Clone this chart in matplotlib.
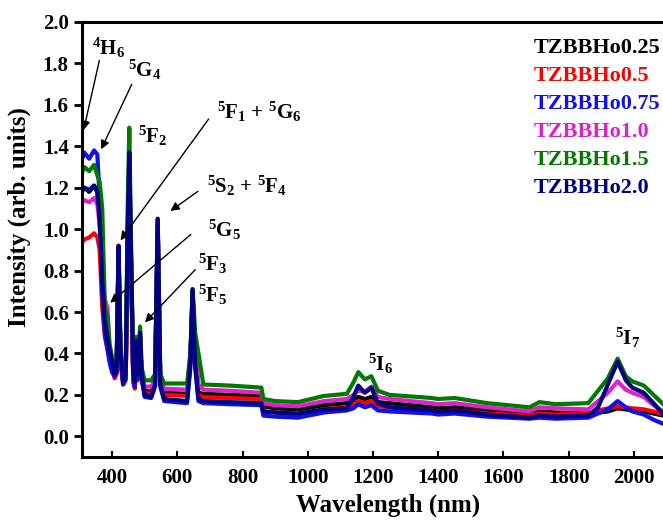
import numpy as np
import matplotlib
matplotlib.use("Agg")
import matplotlib.pyplot as plt

plt.rcParams['font.family'] = ['Liberation Serif', 'DejaVu Serif']
plt.rcParams['font.weight'] = 'bold'
plt.rcParams['mathtext.fontset'] = 'custom'
plt.rcParams['mathtext.rm'] = 'Liberation Serif:bold'
plt.rcParams['mathtext.it'] = 'Liberation Serif:bold'
plt.rcParams['mathtext.bf'] = 'Liberation Serif:bold'

# wavelength grid (nm), shared by all samples
wavelength = [300, 315, 330, 345, 355, 362, 370, 378, 386, 392,
              400, 408, 414, 420, 426, 434, 442, 448, 453, 458,
              465, 470, 474, 479, 486, 491, 500, 520, 532, 540,
              548, 560, 630, 640, 647, 655, 665, 680, 760, 858,
              864, 900, 970, 1050, 1120, 1140, 1155, 1175, 1195, 1215,
              1250, 1380, 1400, 1450, 1550, 1680, 1710, 1760, 1860, 1890,
              1920, 1950, 1975, 1995, 2030, 2060, 2090]

ho025 = [1.17, 1.20, 1.18, 1.21, 1.18, 1.05, 0.75, 0.55, 0.47, 0.42,
         0.36, 0.30, 0.31, 0.88, 0.38, 0.27, 0.29, 0.95, 1.30, 0.88,
         0.28, 0.25, 0.45, 0.29, 0.48, 0.29, 0.22, 0.215, 0.26, 1.02,
         0.26, 0.21, 0.205, 0.36, 0.68, 0.38, 0.21, 0.205, 0.20, 0.195,
         0.145, 0.135, 0.13, 0.15, 0.16, 0.175, 0.19, 0.18, 0.19, 0.165,
         0.16, 0.14, 0.135, 0.14, 0.125, 0.11, 0.12, 0.115, 0.11, 0.115,
         0.12, 0.135, 0.13, 0.125, 0.12, 0.11, 0.10]

ho05 = [0.92, 0.95, 0.96, 0.98, 0.96, 0.90, 0.62, 0.48, 0.42, 0.38,
        0.33, 0.28, 0.30, 0.86, 0.36, 0.25, 0.27, 0.92, 1.25, 0.85,
        0.26, 0.23, 0.43, 0.27, 0.46, 0.27, 0.21, 0.205, 0.25, 1.00,
        0.25, 0.20, 0.195, 0.36, 0.68, 0.36, 0.20, 0.19, 0.185, 0.18,
        0.12, 0.115, 0.105, 0.13, 0.14, 0.155, 0.17, 0.16, 0.17, 0.145,
        0.14, 0.125, 0.12, 0.125, 0.11, 0.10, 0.11, 0.105, 0.11, 0.125,
        0.135, 0.145, 0.14, 0.135, 0.13, 0.12, 0.105]

ho075 = [1.30, 1.37, 1.34, 1.38, 1.36, 1.15, 0.70, 0.50, 0.42, 0.36,
         0.31, 0.29, 0.31, 0.90, 0.38, 0.25, 0.28, 0.98, 1.35, 0.88,
         0.28, 0.24, 0.44, 0.28, 0.48, 0.28, 0.19, 0.185, 0.24, 1.04,
         0.24, 0.17, 0.16, 0.33, 0.70, 0.33, 0.17, 0.16, 0.155, 0.15,
         0.10, 0.095, 0.09, 0.115, 0.125, 0.135, 0.155, 0.14, 0.15, 0.125,
         0.12, 0.11, 0.105, 0.11, 0.095, 0.085, 0.09, 0.085, 0.09, 0.11,
         0.13, 0.17, 0.14, 0.12, 0.105, 0.08, 0.06]

ho10 = [1.11, 1.14, 1.13, 1.15, 1.12, 1.02, 0.80, 0.66, 0.62, 0.44,
        0.37, 0.31, 0.32, 0.85, 0.39, 0.27, 0.30, 0.95, 1.20, 0.85,
        0.29, 0.26, 0.45, 0.30, 0.48, 0.30, 0.24, 0.24, 0.27, 1.00,
        0.27, 0.23, 0.225, 0.38, 0.66, 0.45, 0.25, 0.225, 0.22, 0.21,
        0.16, 0.15, 0.145, 0.17, 0.18, 0.20, 0.22, 0.215, 0.24, 0.19,
        0.18, 0.16, 0.155, 0.16, 0.14, 0.12, 0.14, 0.135, 0.13, 0.17,
        0.21, 0.265, 0.225, 0.21, 0.19, 0.15, 0.12]

ho15 = [1.24, 1.30, 1.28, 1.31, 1.26, 1.23, 1.10, 0.62, 0.58, 0.45,
        0.38, 0.33, 0.34, 0.92, 0.42, 0.30, 0.33, 1.10, 1.49, 0.95,
        0.33, 0.30, 0.48, 0.33, 0.53, 0.33, 0.27, 0.27, 0.30, 1.05,
        0.30, 0.255, 0.255, 0.40, 0.71, 0.50, 0.40, 0.25, 0.245, 0.235,
        0.18, 0.17, 0.165, 0.195, 0.205, 0.26, 0.31, 0.275, 0.29, 0.22,
        0.20, 0.185, 0.18, 0.185, 0.16, 0.14, 0.165, 0.155, 0.16, 0.22,
        0.28, 0.375, 0.29, 0.265, 0.245, 0.20, 0.155]

ho20 = [1.16, 1.20, 1.19, 1.21, 1.18, 1.05, 0.75, 0.55, 0.47, 0.42,
        0.36, 0.30, 0.32, 0.92, 0.40, 0.26, 0.30, 1.00, 1.37, 0.90,
        0.30, 0.26, 0.46, 0.30, 0.50, 0.30, 0.20, 0.19, 0.25, 1.05,
        0.25, 0.18, 0.17, 0.35, 0.71, 0.35, 0.18, 0.17, 0.165, 0.16,
        0.12, 0.115, 0.11, 0.13, 0.135, 0.19, 0.245, 0.21, 0.235, 0.16,
        0.14, 0.125, 0.12, 0.125, 0.105, 0.09, 0.10, 0.095, 0.10, 0.14,
        0.25, 0.36, 0.27, 0.235, 0.21, 0.16, 0.105]

labels = ['TZBBHo0.25', 'TZBBHo0.5', 'TZBBHo0.75', 'TZBBHo1.0', 'TZBBHo1.5', 'TZBBHo2.0']
colors = ['black', '#ff0000', '#1010e8', '#e020c8', '#007a00', '#000080']

# transition labels: (text, x, y) and arrows: (tail, tip)
transitions = [(r'$^{4}$H$_{6}$', 339, 1.84), (r'$^{5}$G$_{4}$', 449, 1.735),
               (r'$^{5}$F$_{2}$', 480, 1.417), (r'$^{5}$F$_{1}$ + $^{5}$G$_{6}$', 722, 1.533),
               (r'$^{5}$S$_{2}$ + $^{5}$F$_{4}$', 691, 1.176), (r'$^{5}$G$_{5}$', 694, 0.964),
               (r'$^{5}$F$_{3}$', 664, 0.80), (r'$^{5}$F$_{5}$', 664, 0.65),
               (r'$^{5}$I$_{6}$', 1185, 0.318), (r'$^{5}$I$_{7}$', 1943, 0.443)]
arrows = [((363, 1.827), (311, 1.465)), ((464, 1.711), (363, 1.373)),
          ((701, 1.542), (421, 0.935)), ((670, 1.19), (572, 1.08)),
          ((648, 0.983), (388, 0.636)), ((661, 0.814), (495, 0.54))]

fig = plt.figure(figsize=(6.63, 5.21), dpi=100)
ax = fig.add_axes([0.1237, 0.1228, 0.8763, 0.835])

series = [ho025, ho05, ho075, ho10, ho15, ho20]
for vals, c in zip(series, colors):
    ax.plot(wavelength, vals, color=c, lw=3.0, solid_joinstyle='round')

for txt, x, y in transitions:
    ax.text(x, y, txt, fontsize=15, va='baseline', ha='left')
for tail, tip in arrows:
    ax.annotate('', xy=tip, xytext=tail,
                arrowprops=dict(arrowstyle='-|>', color='black', lw=1.0, mutation_scale=13))

for i, (lab, c) in enumerate(zip(labels, colors)):
    ax.text(1694, 1.85 - i * 0.135, lab, color=c, fontsize=16, fontweight='bold', va='baseline')

ax.set_xlim(308, 2089)
ax.set_ylim(-0.1, 2.0)
ax.set_xticks([400, 600, 800, 1000, 1200, 1400, 1600, 1800, 2000])
ax.set_yticks(np.arange(0, 2.01, 0.2))
ax.yaxis.set_major_formatter(matplotlib.ticker.FormatStrFormatter('%.1f'))
ax.tick_params(axis='x', direction='in', length=4, width=1.5, labelsize=15, pad=8)
ax.tick_params(axis='y', direction='out', length=6, width=2, labelsize=15)
ax.spines['right'].set_visible(False)
for s in ['left', 'top', 'bottom']:
    ax.spines[s].set_linewidth(2.2)
ax.set_xlabel('Wavelength (nm)', fontsize=18, fontweight='bold')
ax.set_ylabel('Intensity (arb. units)', fontsize=18, fontweight='bold')
ax.xaxis.set_label_coords(0.527, -0.085)
ax.yaxis.set_label_coords(-0.088, 0.552)

fig.savefig('out.png', dpi=100)
